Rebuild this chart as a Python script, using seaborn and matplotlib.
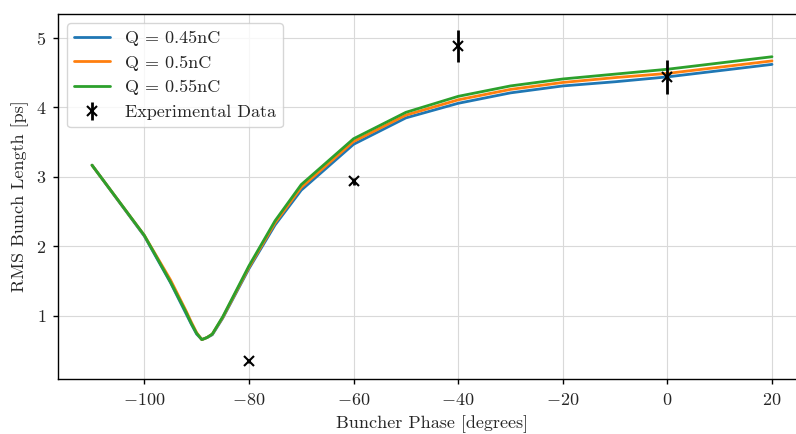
import numpy as np
import pandas as pd
import matplotlib
matplotlib.use("Agg")
import matplotlib.pyplot as plt
import seaborn as sns

# Simulation phases (degrees)
phase = [-110, -100, -95, -92, -91, -90, -89, -88, -87, -85, -80, -75, -70, -60, -50, -40, -30, -20, -10, 0, 10, 20]
# RMS bunch length [ps] for each charge
q045 = [3.17, 2.15, 1.48, 1.03, 0.88, 0.74, 0.66, 0.69, 0.73, 0.97, 1.68, 2.31, 2.81, 3.47, 3.85, 4.06, 4.21, 4.31, 4.37, 4.44, 4.53, 4.62]
q050 = [3.17, 2.16, 1.52, 1.07, 0.91, 0.76, 0.66, 0.69, 0.74, 0.98, 1.70, 2.34, 2.85, 3.51, 3.89, 4.11, 4.26, 4.36, 4.43, 4.49, 4.58, 4.67]
q055 = [3.17, 2.16, 1.49, 1.05, 0.89, 0.75, 0.66, 0.69, 0.74, 0.99, 1.72, 2.37, 2.89, 3.55, 3.93, 4.16, 4.31, 4.41, 4.48, 4.55, 4.64, 4.73]
labels = ["Q = 0.45nC", "Q = 0.5nC", "Q = 0.55nC"]

# Experimental data
exp_phase = [-80, -60, -40, 0]
exp_len = [0.35, 2.94, 4.88, 4.44]
exp_err = [0.02, 0.05, 0.23, 0.24]

sns.set_style("white")
plt.rcParams['font.family'] = ['cmr10', 'DejaVu Serif']
plt.rcParams['mathtext.fontset'] = 'cm'
plt.rcParams['axes.formatter.use_mathtext'] = True
plt.rcParams['axes.unicode_minus'] = True

df = pd.concat([
    pd.DataFrame({"phase": phase, "length": v, "Q": lab})
    for v, lab in zip([q045, q050, q055], labels)
])

fig = plt.figure(figsize=(7.96, 4.34), dpi=100)
ax = fig.add_axes([58/796, 55/434, 748/796, 365/434])

palette = ["#1f77b4", "#ff7f0e", "#2ca02c"]
sns.lineplot(data=df, x="phase", y="length", hue="Q", palette=palette,
             linewidth=2, ax=ax, legend=False)
lines = ax.get_lines()
for ln, lab in zip(lines, labels):
    ln.set_label(lab)

ax.errorbar(exp_phase, exp_len, yerr=exp_err, fmt='x', color='black',
            markersize=7, markeredgewidth=1.5, elinewidth=2, capsize=0,
            label="Experimental Data", zorder=5)

ax.set_xlim(-116.5, 26.5)
ax.set_ylim(0.093, 5.345)
ax.set_xticks([-100, -80, -60, -40, -20, 0, 20])
ax.set_yticks([1, 2, 3, 4, 5])
ax.grid(True, color="#d9d9d9", linewidth=0.8)
for s in ax.spines.values():
    s.set_color("black")
    s.set_linewidth(1.0)
ax.tick_params(axis='both', which='both', direction='out', length=3.5, width=1,
               color='black', labelsize=13, bottom=True, left=True)
ax.tick_params(axis='x', pad=6)
ax.tick_params(axis='y', pad=5)
ax.set_xlabel("Buncher Phase [degrees]", fontsize=13, labelpad=5)
ax.set_ylabel("RMS Bunch Length [ps]", fontsize=13, labelpad=5)

ax.legend(loc="upper left", fontsize=13, frameon=True, framealpha=0.8,
          edgecolor="#cccccc", fancybox=True, handlelength=2.0)

fig.savefig("out.png", dpi=100)
